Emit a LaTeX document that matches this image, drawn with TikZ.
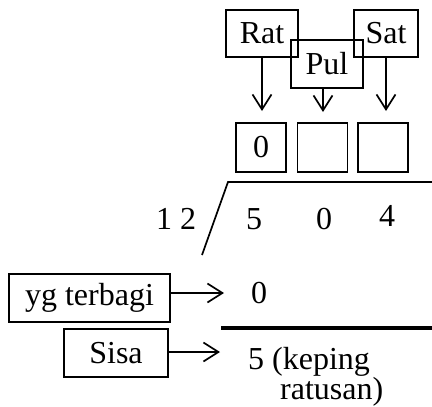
\documentclass[tikz,border=0pt]{standalone}
\usepackage{fontspec}
\setmainfont{Liberation Serif}
\usetikzlibrary{arrows.meta}
\begin{document}
\begin{tikzpicture}[x=1pt,y=-1pt,
  every node/.style={font=\fontsize{32}{38}\selectfont, inner sep=0pt},
  lbl/.style={draw, line width=1.7pt},
  digitbox/.style={draw, line width=1.7pt, minimum width=50pt, minimum height=49pt},
  arr/.style={line width=1.7pt, -{Straight Barb[length=15pt,width=19pt,line width=1.7pt]}}
]
\useasboundingbox (0,0) rectangle (432,407);
% top labels
\node[lbl, minimum width=72pt, minimum height=47pt] (rat) at (262,33.5) {Rat};
\node[lbl, minimum width=64pt, minimum height=47pt] (sat) at (386,33.5) {Sat};
\node[lbl, minimum width=72pt, minimum height=48pt] (pul) at (327,64) {Pul};
% digit boxes
\node[digitbox] (b1) at (261,147.5) {0};
\node[digitbox] (b2) at (322.5,147.5) {};
\node[digitbox] (b3) at (383,147.5) {};
% arrow tips
\coordinate (ratend) at (262,111);
\coordinate (pulend) at (323,112);
\coordinate (satend) at (386,111);
\draw[arr] (rat.south -| ratend) -- (ratend);
\draw[arr] (pul.south -| pulend) -- (pulend);
\draw[arr] (sat.south -| satend) -- (satend);
% division sign
\coordinate (dtop) at (228,182);
\coordinate (dright) at (432,182);
\coordinate (dbot) at (202,255);
\draw[line width=1.7pt] (dbot) -- (dtop) -- (dright);
\node (div) at (176,219) {1 2};
\node (d5) at (254,219) {5};
\node (d0) at (324,219) {0};
\node (d4) at (387,216) {4};
% lower part
\node[lbl, minimum width=161pt, minimum height=48pt] (yg) at (89.5,298) {yg terbagi};
\coordinate (ygend) at (224,293);
\draw[arr] (yg.east |- ygend) -- (ygend);
\node (zero) at (259,293) {0};
\coordinate (hl) at (221,328);
\coordinate (hr) at (432,328);
\draw[line width=3.3pt] (hl) -- (hr);
\node[lbl, minimum width=104pt, minimum height=48pt] (sisa) at (116,353) {Sisa};
\coordinate (sisaend) at (220,352);
\draw[arr] (sisa.east |- sisaend) -- (sisaend);
\node[anchor=base west] (rem) at (248,369) {5 (keping};
\node[anchor=base west] (rem2) at (280,399) {ratusan)};
\end{tikzpicture}
\end{document}
